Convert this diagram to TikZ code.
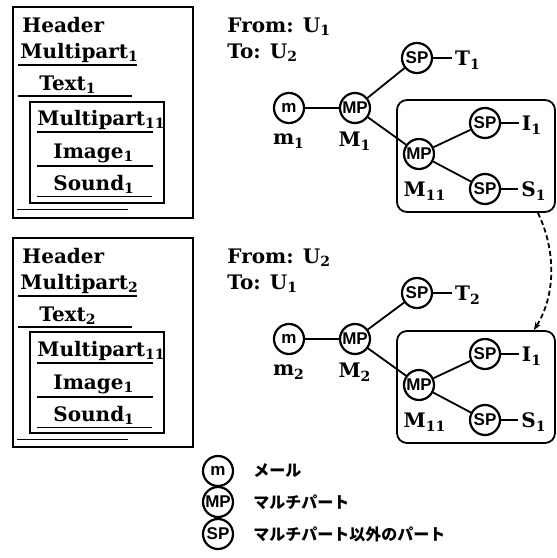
\documentclass[tikz,border=0pt]{standalone}
\usepackage{fontspec}
\setmainfont{DejaVu Serif}
\newfontfamily\circfont{Liberation Sans}
\newfontfamily\jpfont{Noto Sans CJK JP}
\usetikzlibrary{arrows.meta}
\newcommand{\lowidx}[1]{\textsubscript{#1}}

\begin{document}
\begin{tikzpicture}[x=0.5pt, y=-0.5pt,
    txt/.style={anchor=base west, inner sep=0pt, font=\fontsize{10}{12}\selectfont\bfseries},
    lbl/.style={inner sep=1.5pt, font=\fontsize{10}{12}\selectfont\bfseries},
    part/.style={circle, draw, line width=1.1pt, minimum size=15pt, inner sep=0pt,
                 font=\circfont\bfseries\fontsize{8.5}{8.5}\selectfont},
    grp/.style={draw, rounded corners=5pt, line width=0.9pt,
                minimum width=79pt, minimum height=56pt},
    uline/.style={line width=0.9pt},
    dline/.style={double, line width=0.45pt, double distance=0.5pt},
    edge/.style={line width=0.9pt},
    note/.style={anchor=west, inner sep=0pt, font=\jpfont\bfseries\fontsize{8}{10}\selectfont}
  ]
  \useasboundingbox (0,0) rectangle (557,558);

  % Message 1: layout
  \draw[line width=0.7pt] (13,7) rectangle (193,218);
  \draw[line width=0.8pt] (30,102) rectangle (164,203);
  \node[txt] (hdA)  at (22,32)  {Header};
  \node[txt] (mpA)  at (20,58)  {Multipart\lowidx{1}};
  \node[txt] (txA)  at (39,90)  {Text\lowidx{1}};
  \node[txt] (mpAA) at (37,125) {Multipart\lowidx{11}};
  \node[txt] (imA)  at (53,158) {Image\lowidx{1}};
  \node[txt] (sdA)  at (53,190) {Sound\lowidx{1}};
  \draw[uline] (18,65) -- (137,65);
  \draw[uline] (18,96) -- (132,96);
  \draw[uline] (37,132) -- (153,132);
  \draw[uline] (37,166) -- (153,166);
  \draw[dline] (37,197) -- (152,197);
  \draw[dline] (17,210) -- (128,210);

  % Message 1: tree
  \node[txt] (fromA) at (227,32) {From: U\lowidx{1}};
  \node[txt] (toA)   at (227,58) {To: U\lowidx{2}};
  \node[grp]  (gA)   at (476,156) {};
  \node[part] (mA)   at (289,108) {m};
  \node[part] (MA)   at (355,108) {MP};
  \node[part] (TA)   at (417,58)  {SP};
  \node[part] (MAA)  at (419,154) {MP};
  \node[part] (IA)   at (485,123) {SP};
  \node[part] (SA)   at (485,189) {SP};
  \node[lbl] (mAl)   at (289,141) {m\lowidx{1}};
  \node[lbl] (MAl)   at (355,141) {M\lowidx{1}};
  \node[lbl] (TAl)   at (468,60)  {T\lowidx{1}};
  \node[lbl] (IAl)   at (532,125) {I\lowidx{1}};
  \node[lbl] (SAl)   at (534,191) {S\lowidx{1}};
  \node[lbl] (MAAl)  at (425,191) {M\lowidx{11}};
  \draw[edge] (mA) -- (MA);
  \draw[edge] (MA) -- (TA);
  \draw[edge] (MA) -- (MAA);
  \draw[edge] (MAA) -- (IA);
  \draw[edge] (MAA) -- (SA);
  \draw[edge] (TA.east) -- (TA.east -| TAl.west);
  \draw[edge] (IA.east) -- (IA.east -| IAl.west);
  \draw[edge] (SA.east) -- (SA.east -| SAl.west);

  % Message 2: layout
  \draw[line width=0.7pt] (13,238) rectangle (193,447);
  \draw[line width=0.8pt] (30,332) rectangle (164,433);
  \node[txt] (hdB)  at (22,263)  {Header};
  \node[txt] (mpB)  at (20,289)  {Multipart\lowidx{2}};
  \node[txt] (txB)  at (39,321)  {Text\lowidx{2}};
  \node[txt] (mpBB) at (37,356)  {Multipart\lowidx{11}};
  \node[txt] (imB)  at (53,389)  {Image\lowidx{1}};
  \node[txt] (sdB)  at (53,421)  {Sound\lowidx{1}};
  \draw[uline] (18,296) -- (137,296);
  \draw[uline] (18,327) -- (132,327);
  \draw[uline] (37,363) -- (153,363);
  \draw[uline] (37,397) -- (153,397);
  \draw[dline] (37,428) -- (152,428);
  \draw[dline] (17,440) -- (128,440);

  % Message 2: tree
  \node[txt] (fromB) at (227,263) {From: U\lowidx{2}};
  \node[txt] (toB)   at (227,289) {To: U\lowidx{1}};
  \node[grp]  (gB)   at (476,387) {};
  \node[part] (mB)   at (289,339) {m};
  \node[part] (MB)   at (355,339) {MP};
  \node[part] (TB)   at (417,293) {SP};
  \node[part] (MBB)  at (419,385) {MP};
  \node[part] (IB)   at (485,354) {SP};
  \node[part] (SB)   at (485,420) {SP};
  \node[lbl] (mBl)   at (289,372) {m\lowidx{2}};
  \node[lbl] (MBl)   at (355,372) {M\lowidx{2}};
  \node[lbl] (TBl)   at (468,295) {T\lowidx{2}};
  \node[lbl] (IBl)   at (532,356) {I\lowidx{1}};
  \node[lbl] (SBl)   at (534,422) {S\lowidx{1}};
  \node[lbl] (MBBl)  at (425,422) {M\lowidx{11}};
  \draw[edge] (mB) -- (MB);
  \draw[edge] (MB) -- (TB);
  \draw[edge] (MB) -- (MBB);
  \draw[edge] (MBB) -- (IB);
  \draw[edge] (MBB) -- (SB);
  \draw[edge] (TB.east) -- (TB.east -| TBl.west);
  \draw[edge] (IB.east) -- (IB.east -| IBl.west);
  \draw[edge] (SB.east) -- (SB.east -| SBl.west);

  % Reply link
  \coordinate (dsrc) at ([xshift=-9pt]gA.south east);
  \coordinate (ddst) at ([xshift=-11pt]gB.north east);
  \draw[line width=0.9pt, dash pattern=on 2.5pt off 1.5pt, -{Stealth[length=4pt]}]
    (dsrc) .. controls (556,250) and (556,295) .. (ddst);

  % Legend
  \node[part] (lgm)  at (218,471) {m};
  \node[part] (lgmp) at (218,502) {MP};
  \node[part] (lgsp) at (218,534) {SP};
  \node[note] (lgmt)  at (253,471) {メール};
  \node[note] (lgmpt) at (253,502) {マルチパート};
  \node[note] (lgspt) at (253,534) {マルチパート以外のパート};
\end{tikzpicture}
\end{document}
